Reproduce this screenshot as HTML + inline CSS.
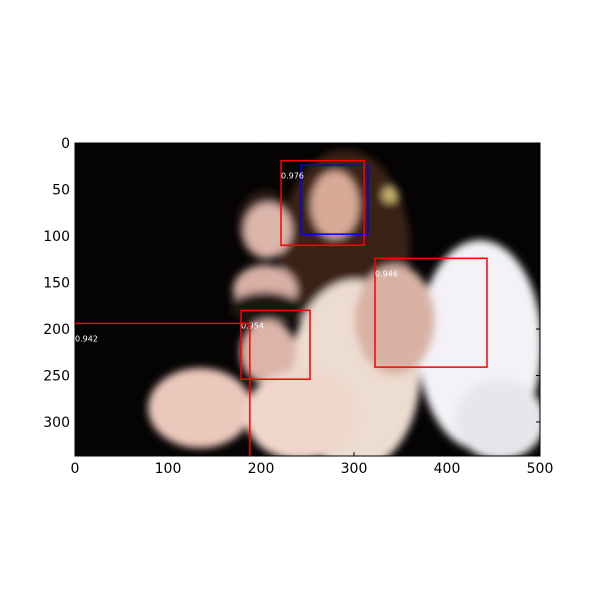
<!DOCTYPE html>
<html><head><meta charset="utf-8"><style>
body{margin:0;background:#fff;}
svg text{font-family:"DejaVu Sans","Liberation Sans",sans-serif;}
</style></head><body>
<svg id="chart" width="600" height="600" viewBox="0 0 600 600">
<defs>
<filter id="b" x="-50%" y="-50%" width="200%" height="200%"><feGaussianBlur stdDeviation="4"/></filter>
<clipPath id="clip"><rect x="75" y="143" width="465" height="313"/></clipPath>
</defs>
<g clip-path="url(#clip)">
<rect x="75" y="143" width="465" height="313" fill="#050303"/>
<g filter="url(#b)">
<ellipse cx="345" cy="250" rx="65" ry="100" fill="#3a2418"/>
<ellipse cx="265" cy="225" rx="28" ry="35" fill="#2a1a14"/>
<ellipse cx="480" cy="345" rx="62" ry="105" fill="#f4f2f6"/>
<ellipse cx="500" cy="420" rx="45" ry="40" fill="#e8e6ea"/>
<ellipse cx="355" cy="375" rx="65" ry="95" fill="#eddcd0"/>
<ellipse cx="395" cy="320" rx="40" ry="55" fill="#d9b2a4"/>
<ellipse cx="335" cy="205" rx="24" ry="34" fill="#d8aa96"/>
<ellipse cx="268" cy="230" rx="24" ry="27" fill="#dcb6aa"/>
<ellipse cx="265" cy="290" rx="32" ry="25" fill="#d8b0a6"/>
<ellipse cx="265" cy="308" rx="35" ry="16" fill="#1e1410"/>
<ellipse cx="268" cy="352" rx="28" ry="32" fill="#dcb4a8"/>
<ellipse cx="200" cy="408" rx="52" ry="40" fill="#ecc8bc"/>
<ellipse cx="300" cy="415" rx="55" ry="45" fill="#f0d6ca"/>
<ellipse cx="390" cy="195" rx="8" ry="8" fill="#c8b070"/>
</g>
</g>
<g id="boxes" clip-path="url(#clip)"></g>
<rect x="75" y="143" width="465" height="313" fill="none" stroke="#000" stroke-width="1"/>
<g id="axes" font-size="14" fill="#000"></g>
</svg>
<script>
const xTicks=[0,100,200,300,400,500];
const yTicks=[0,50,100,150,200,250,300];
const boxX0=[243,221.5,322.6,178.5,-2];
const boxY0=[24,19,124,180,194];
const boxX1=[315,311,443,252.7,188];
const boxY1=[98,110,241,254,340];
const boxScore=["","0.976","0.946","0.954","0.942"];
const boxColor=["#0000ff","#ff0000","#ff0000","#ff0000","#ff0000"];
const X=v=>75+v*0.93, Y=v=>143+v*0.93;
const NS="http://www.w3.org/2000/svg";
const bg=document.getElementById('boxes'), ax=document.getElementById('axes');
for(let i=0;i<boxX0.length;i++){
  const r=document.createElementNS(NS,'rect');
  r.setAttribute('x',X(boxX0[i]));r.setAttribute('y',Y(boxY0[i]));
  r.setAttribute('width',X(boxX1[i])-X(boxX0[i]));r.setAttribute('height',Y(boxY1[i])-Y(boxY0[i]));
  r.setAttribute('fill','none');r.setAttribute('stroke',boxColor[i]);r.setAttribute('stroke-width','1.5');
  
  
  bg.appendChild(r);
  if(boxScore[i]){
    const t=document.createElementNS(NS,'text');
    t.setAttribute('x',Math.max(X(boxX0[i]),75));t.setAttribute('y',Y(boxY0[i])+18);
    t.setAttribute('font-size','8');t.setAttribute('fill','#fff');t.textContent=boxScore[i];
    
    
    bg.appendChild(t);
  }
}
xTicks.forEach(v=>{
  const t=document.createElementNS(NS,'text');
  t.setAttribute('x',X(v));t.setAttribute('y',473);t.setAttribute('text-anchor','middle');t.textContent=v;
  
  
  ax.appendChild(t);
  [[456,452],[143,147]].forEach(([a,b])=>{const l=document.createElementNS(NS,'line');
  l.setAttribute('x1',X(v));l.setAttribute('x2',X(v));l.setAttribute('y1',a);l.setAttribute('y2',b);l.setAttribute('stroke','#000');
  
  
  ax.appendChild(l);});
});
yTicks.forEach(v=>{
  const t=document.createElementNS(NS,'text');
  t.setAttribute('x',70);t.setAttribute('y',Y(v)+5);t.setAttribute('text-anchor','end');t.textContent=v;
  
  
  ax.appendChild(t);
  [[75,79],[540,536]].forEach(([a,b])=>{const l=document.createElementNS(NS,'line');
  l.setAttribute('x1',a);l.setAttribute('x2',b);l.setAttribute('y1',Y(v));l.setAttribute('y2',Y(v));l.setAttribute('stroke','#000');
  
  
  ax.appendChild(l);});
});
</script>
</body></html>
